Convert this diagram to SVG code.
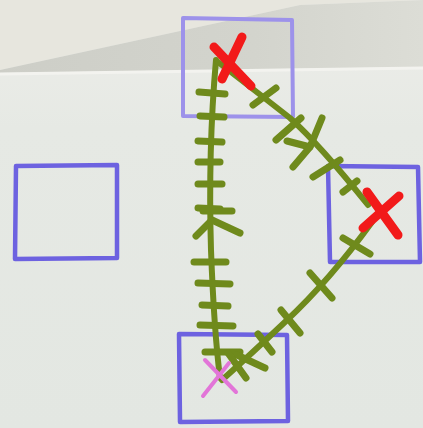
<svg xmlns="http://www.w3.org/2000/svg" width="423" height="428" viewBox="0 0 423 428">
<style>
.box{fill:none;stroke:#6d62e0;stroke-width:4.5;stroke-linecap:round;stroke-linejoin:round}
.g{fill:none;stroke:#6f8a1c;stroke-width:6;stroke-linecap:round;stroke-linejoin:round}
.t{fill:none;stroke:#6f8a1c;stroke-width:7;stroke-linecap:round;stroke-linejoin:round}
.r{fill:none;stroke:#f21a1a;stroke-width:9;stroke-linecap:round}
.m{fill:none;stroke:#e275d8;stroke-width:4;stroke-linecap:round}
</style>
<defs>
<linearGradient id="paper" x1="0" y1="0" x2="0" y2="1">
<stop offset="0" stop-color="#eeeeea"/>
<stop offset="0.3" stop-color="#e6e9e4"/>
<stop offset="1" stop-color="#e3e7e2"/>
</linearGradient>
<linearGradient id="shade" x1="0" y1="0" x2="1" y2="0">
<stop offset="0" stop-color="#cdcec7"/>
<stop offset="0.6" stop-color="#d3d4cd"/>
<stop offset="1" stop-color="#dcddd6"/>
</linearGradient>
</defs>
<rect width="423" height="428" fill="url(#paper)"/>
<polygon points="0,0 423,0 300,5 0,70" fill="#e7e6de"/>
<polygon points="0,70 300,5 423,0 423,67 0,73" fill="url(#shade)"/>
<line x1="0" y1="74" x2="423" y2="68" stroke="#f3f3ef" stroke-width="3"/>
<g id="box-top"><path class="box" d="M183,18 L292,20 L293,117 L183,116 Z" style="stroke:#9d92ea;stroke-width:4"/></g>
<g id="box-left"><path class="box" d="M16,166 L117,165 L117,258 L15,259 Z"/></g>
<g id="box-right"><path class="box" d="M328,166 L418,167 L420,262 L330,262 Z"/></g>
<g id="box-bottom"><path class="box" d="M179,334 L287,335 L288,421 L180,422 Z"/></g>
<g id="connectors">
<path class="g" d="M216,60 Q208,150 211,250 Q214,330 220,378"/>
<path class="g" d="M218,62 Q262,96 290,118 Q320,145 368,205"/>
<path class="g" d="M372,222 Q330,280 285,322 Q250,355 222,380"/>
<g class="t">
<line x1="199" y1="92" x2="225" y2="94"/>
<line x1="200" y1="116" x2="224" y2="117"/>
<line x1="198" y1="141" x2="222" y2="142"/>
<line x1="198" y1="162" x2="220" y2="162"/>
<line x1="198" y1="184" x2="222" y2="184"/>
<line x1="198" y1="208" x2="220" y2="209"/>
<line x1="203" y1="211" x2="232" y2="211"/>
<polyline points="196,236 212,220 240,233"/>
<line x1="194" y1="262" x2="226" y2="262"/>
<line x1="198" y1="283" x2="230" y2="284"/>
<line x1="202" y1="305" x2="228" y2="306"/>
<line x1="200" y1="325" x2="233" y2="326"/>
<line x1="205" y1="352" x2="240" y2="352"/>
<line x1="253" y1="105" x2="276" y2="88"/>
<line x1="276" y1="140" x2="301" y2="118"/>
<polyline points="322,118 310,147 287,141"/>
<line x1="310" y1="147" x2="293" y2="167"/>
<line x1="313" y1="177" x2="340" y2="160"/>
<line x1="343" y1="192" x2="357" y2="181"/>
<line x1="343" y1="238" x2="370" y2="254"/>
<line x1="310" y1="273" x2="332" y2="298"/>
<line x1="281" y1="310" x2="300" y2="333"/>
<line x1="258" y1="334" x2="272" y2="352"/>
<line x1="237" y1="355" x2="265" y2="368"/>
<line x1="228" y1="353" x2="246" y2="378"/>
</g>
</g>
<g id="marks">
<line class="r" x1="214" y1="47" x2="251" y2="86"/>
<line class="r" x1="242" y1="37" x2="222" y2="79"/>
<line class="r" x1="367" y1="192" x2="398" y2="235"/>
<line class="r" x1="399" y1="196" x2="363" y2="228"/>
<line class="m" x1="205" y1="360" x2="236" y2="392"/>
<line class="m" x1="229" y1="363" x2="203" y2="396"/>
</g>
</svg>
